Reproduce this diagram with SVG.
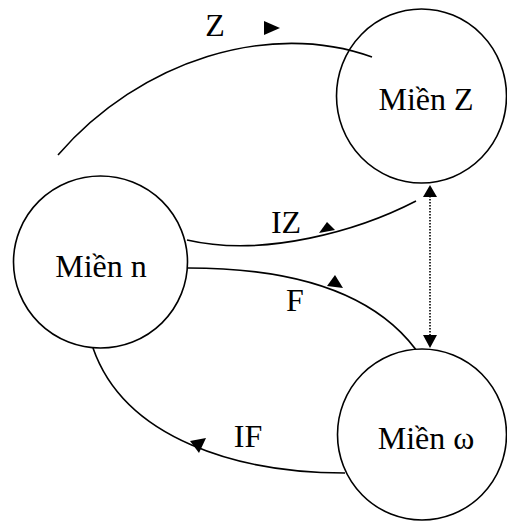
<svg xmlns="http://www.w3.org/2000/svg" width="507" height="521" viewBox="0 0 507 521">
<style>
.node{fill:#fff;stroke:#000;stroke-width:1.6}
.lbl{font-family:"Liberation Serif","DejaVu Serif",serif;font-size:32px;fill:#000;text-anchor:middle}
.edge{fill:none;stroke:#000;stroke-width:1.6}
.dot{fill:none;stroke:#000;stroke-width:1.6;stroke-dasharray:1.5 1.5}
.head{fill:#000}
</style>
<rect width="507" height="521" fill="#fff"/>
<g id="connectors">
<path class="edge" d="M58,155 C140,60 270,20 372,57"/>
<polygon class="head" points="264,21 280,28 264,35"/>
<text class="lbl" x="215" y="36">Z</text>
<path class="edge" d="M416,201 C360,230 265,258 187,240"/>
<polygon class="head" points="327,222 319,233 335,230"/>
<text class="lbl" x="286" y="233">IZ</text>
<path class="edge" d="M188,268 C300,268 380,295 421,357"/>
<polygon class="head" points="335,275 327,286 343,288"/>
<text class="lbl" x="295" y="311">F</text>
<path class="edge" d="M345,473 C240,473 125,440 93,348"/>
<polygon class="head" points="190,441 206,438 199,453"/>
<text class="lbl" x="248" y="447">IF</text>
<line class="dot" x1="430" y1="196" x2="430" y2="336"/>
<polygon class="head" points="430,185 423,197 437,197"/>
<polygon class="head" points="430,348 423,335 437,335"/>
</g>
<g id="node-mien-z">
<ellipse class="node" cx="421.5" cy="96" rx="85" ry="87" style="fill:none"/>
<text class="lbl" x="426" y="110">Miền Z</text>
</g>
<g id="node-mien-n">
<ellipse class="node" cx="100.5" cy="262" rx="87" ry="86"/>
<text class="lbl" x="101" y="277">Miền n</text>
</g>
<g id="node-mien-omega">
<ellipse class="node" cx="422" cy="434.5" rx="84.5" ry="85.5"/>
<text class="lbl" x="426" y="449">Miền ω</text>
</g>
</svg>
